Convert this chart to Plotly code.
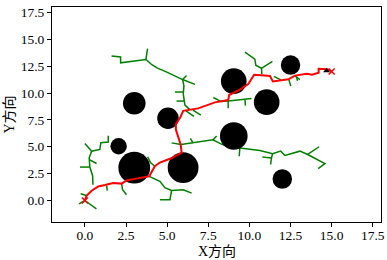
import plotly.graph_objects as go

# ---------------- data ----------------
# obstacles: centre x, centre y, radius
obs_x = [3.0, 5.97, 9.05, 9.05, 11.05, 3.0, 5.05, 12.5, 12.0, 2.05]
obs_y = [3.05, 3.05, 6.0, 11.1, 9.15, 9.05, 7.65, 12.6, 2.0, 5.05]
obs_r = [1.55, 1.5, 1.35, 1.25, 1.25, 1.1, 1.05, 0.95, 0.95, 0.8]

# final path (start -> goal)
path_x = [0.0, 0.10, 0.41, 0.81, 1.22, 1.72, 2.23, 2.53, 3.04, 3.91, 4.25, 4.56, 5.17,
          5.88, 5.82, 5.67, 5.53, 5.53, 5.80, 5.98, 6.89, 7.90, 8.71, 8.77, 9.42, 9.93,
          10.29, 10.74, 11.25, 11.43, 12.37, 12.77, 13.50, 13.80, 14.21, 14.21, 14.74, 15.0]
path_y = [0.0, 0.44, 0.91, 1.31, 1.44, 1.63, 1.57, 1.87, 2.01, 2.25, 3.19, 3.53, 3.88,
          4.44, 5.22, 6.00, 6.60, 7.10, 7.75, 8.34, 8.57, 9.13, 9.34, 9.81, 10.31, 10.84,
          11.69, 11.66, 11.59, 11.08, 11.27, 11.62, 11.78, 11.69, 11.88, 12.25, 12.22, 12.0]

start_xy = (0.0, 0.0)
goal_xy = (15.0, 12.0)
robot_xy = (14.69, 12.06)

# explored tree branches, each a polyline [(x, y), ...]
tree_branches = [
    # left tree
    [(0.49, 1.47), (0.47, 2.31), (0.30, 3.11), (0.26, 3.97), (0.41, 4.59), (0.91, 4.75),
     (0.97, 5.38), (1.42, 5.44), (1.42, 6.02)],
    [(-0.30, 3.11), (0.30, 3.11)],
    [(0.27, 3.81), (0.71, 3.44)],
    [(0.41, 4.59), (0.0, 5.31)],
    # around the start
    [(0.0, 0.0), (0.70, -0.78)],
    [(-0.36, -0.31), (0.0, 0.0)],
    [(-0.26, 0.63), (0.14, 0.44)],
    [(1.32, 1.38), (1.36, 0.91)],
    [(2.23, 1.57), (2.29, 1.0), (2.53, 0.54)],
    [(3.81, 4.07), (4.0, 3.51), (4.25, 3.19)],
    # lower middle
    [(3.91, 2.25), (4.56, 1.78), (4.86, 1.19), (5.27, 0.94), (5.98, 1.0), (6.49, 0.69)],
    [(5.27, 0.94), (5.17, 0.07), (4.56, 0.07)],
    # long tree to the right
    [(5.27, 5.36), (5.84, 5.22)],
    [(5.84, 5.22), (6.57, 5.36), (7.78, 5.64), (8.33, 5.22), (8.94, 4.94), (9.42, 4.89),
     (10.64, 4.66), (11.41, 4.35), (11.90, 4.59), (12.16, 4.19), (12.66, 4.38),
     (13.07, 4.59), (13.54, 4.28), (14.59, 3.44), (14.18, 2.97)],
    [(6.57, 5.36), (6.41, 5.78)],
    [(7.78, 5.64), (8.01, 6.0)],
    [(9.42, 4.89), (9.38, 4.12)],
    [(11.41, 4.35), (11.34, 3.96), (11.29, 3.35)],
    [(11.34, 3.96), (10.79, 4.05)],
    [(13.54, 4.28), (14.24, 5.0)],
    # upper-left tree
    [(1.62, 13.44), (2.17, 13.35), (2.17, 12.81), (3.71, 13.12), (4.07, 12.63), (4.38, 12.34),
     (4.98, 11.94), (5.47, 11.59), (5.94, 11.25), (6.69, 10.80)],
    [(3.71, 13.12), (3.81, 14.12)],
    [(5.94, 11.25), (6.18, 11.62)],
    [(5.94, 11.25), (6.02, 10.66), (5.98, 9.91), (6.08, 8.88), (6.38, 8.45)],
    [(5.47, 10.09), (6.0, 10.09)],
    [(5.57, 9.25), (6.05, 9.25)],
    [(6.14, 8.34), (6.63, 7.82)],
    [(6.57, 8.41), (7.05, 7.94)],
    # below circle (9, 11)
    [(7.81, 9.58), (8.27, 9.20), (8.71, 9.25), (9.73, 9.39), (10.13, 9.50)],
    [(8.71, 9.25), (8.71, 8.59)],
    [(9.73, 9.39), (9.76, 8.83)],
    # upper-right tree
    [(9.73, 13.80), (10.33, 13.14), (10.39, 12.58), (10.73, 12.30), (10.76, 11.74)],
    [(10.73, 12.30), (11.40, 12.95)],
    [(11.49, 11.55), (11.91, 11.22)],
    [(12.40, 11.22), (12.52, 10.66)],
    [(12.77, 11.59), (13.07, 11.25)],
    [(12.87, 11.50), (12.92, 11.13)],
]

x_ticks = [0.0, 2.5, 5.0, 7.5, 10.0, 12.5, 15.0, 17.5]
y_ticks = [0.0, 2.5, 5.0, 7.5, 10.0, 12.5, 15.0, 17.5]
x_label = "X方向"
y_label = "Y方向"

# ---------------- figure ----------------
tx, ty = [], []
for br in tree_branches:
    for px, py in br:
        tx.append(px)
        ty.append(py)
    tx.append(None)
    ty.append(None)

fig = go.Figure()
fig.add_trace(go.Scatter(x=tx, y=ty, mode="lines",
                         line=dict(color="#008000", width=1.5), hoverinfo="skip"))
fig.add_trace(go.Scatter(x=obs_x, y=obs_y, mode="markers",
                         marker=dict(color="black", opacity=1,
                                     size=[r * 20.5 for r in obs_r],
                                     line=dict(width=0))))
fig.add_trace(go.Scatter(x=path_x, y=path_y, mode="lines",
                         line=dict(color="#ff0000", width=2)))
fig.add_trace(go.Scatter(x=[robot_xy[0]], y=[robot_xy[1]], mode="markers",
                         marker=dict(color="black", opacity=1, symbol="triangle-up", size=6)))
fig.add_trace(go.Scatter(x=[start_xy[0], goal_xy[0]], y=[start_xy[1], goal_xy[1]],
                         mode="markers",
                         marker=dict(color="#ff0000", opacity=1, symbol="x-thin", size=6,
                                     line=dict(color="#ff0000", width=1.5))))

font_family = "Liberation Serif, Times New Roman, Noto Sans CJK SC, serif"
axis_common = dict(range=[-2, 18], showgrid=False, zeroline=False, automargin=False,
                   showline=True, linecolor="black", linewidth=1, mirror=True,
                   ticks="outside", ticklen=4, tickwidth=1, tickcolor="black",
                   tickformat=".1f", tickfont=dict(family=font_family, size=13.5, color="black"))
fig.update_xaxes(**axis_common, tickvals=x_ticks, ticklabelstandoff=-3)
fig.update_yaxes(**axis_common, tickvals=y_ticks)

title_font = dict(family=font_family, size=14, color="black")
fig.add_annotation(text=x_label, xref="paper", yref="paper", x=0.5, y=0,
                   yshift=-20, yanchor="top", showarrow=False, font=title_font)
fig.add_annotation(text=y_label, xref="paper", yref="paper", x=0, y=0.5,
                   xshift=-43, xanchor="center", textangle=-90, showarrow=False, font=title_font)

fig.update_layout(width=387, height=260, showlegend=False,
                  margin=dict(l=52, r=6, t=7, b=38),
                  plot_bgcolor="white", paper_bgcolor="white")

fig.write_html("out.html", config={"displayModeBar": False},
               post_script="document.body.style.margin='0';document.body.style.overflow='hidden';")
